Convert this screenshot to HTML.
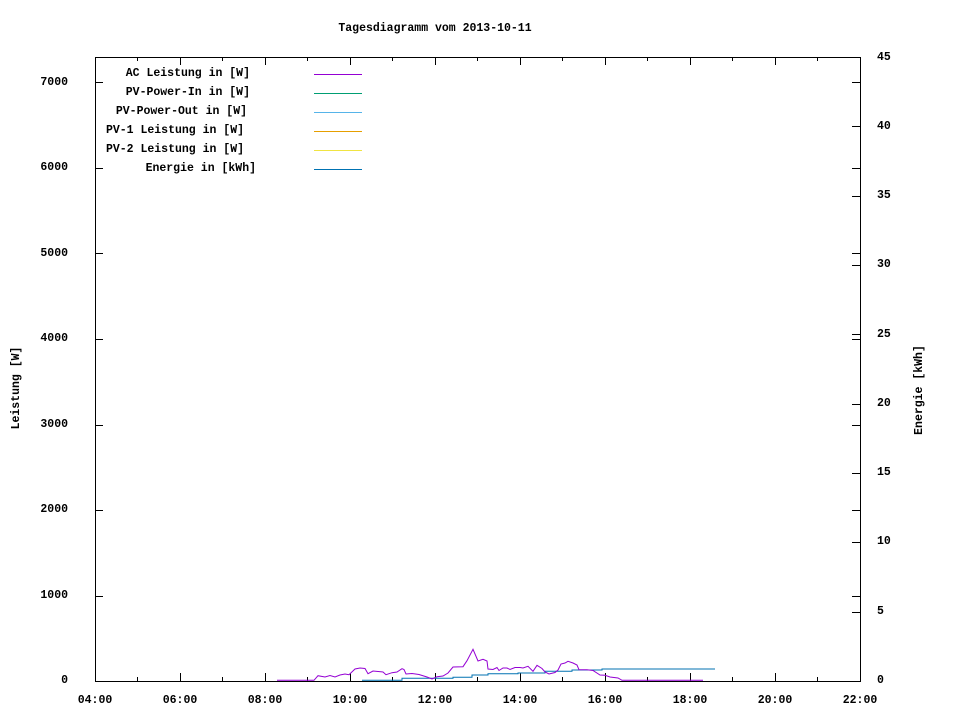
<!DOCTYPE html>
<html><head><meta charset="utf-8"><style>
html,body{margin:0;padding:0;background:#fff}
svg text{font-family:"Liberation Mono",monospace;font-weight:bold;font-size:11.5px;fill:#000}
</style></head><body>
<svg width="960" height="720" xmlns="http://www.w3.org/2000/svg">
<rect width="960" height="720" fill="#fff"/>
<text x="435" y="31" text-anchor="middle">Tagesdiagramm vom 2013-10-11</text>
<g stroke="#000" stroke-width="1" fill="none" shape-rendering="crispEdges">
<rect x="95.5" y="57.5" width="765" height="624"/>
<path d="M95 596.5h8M95 510.5h8M95 425.5h8M95 339.5h8M95 253.5h8M95 168.5h8M95 82.5h8
M860 596.5h-8M860 510.5h-8M860 425.5h-8M860 339.5h-8M860 253.5h-8M860 168.5h-8M860 82.5h-8"/>
<path d="M860 612.5h-8M860 542.5h-8M860 473.5h-8M860 404.5h-8M860 334.5h-8M860 265.5h-8M860 196.5h-8M860 126.5h-8"/>
<path d="M180.5 681v-8M265.5 681v-8M350.5 681v-8M435.5 681v-8M520.5 681v-8M605.5 681v-8M690.5 681v-8M775.5 681v-8
M180.5 57v8M265.5 57v8M350.5 57v8M435.5 57v8M520.5 57v8M605.5 57v8M690.5 57v8M775.5 57v8
M137.5 681v-4M222.5 681v-4M307.5 681v-4M392.5 681v-4M477.5 681v-4M562.5 681v-4M647.5 681v-4M732.5 681v-4M817.5 681v-4
M137.5 57v4M222.5 57v4M307.5 57v4M392.5 57v4M477.5 57v4M562.5 57v4M647.5 57v4M732.5 57v4M817.5 57v4"/>
</g>
<g text-anchor="end">
<text x="68" y="683">0</text><text x="68" y="598">1000</text><text x="68" y="512">2000</text><text x="68" y="427">3000</text>
<text x="68" y="341">4000</text><text x="68" y="256">5000</text><text x="68" y="170">6000</text><text x="68" y="85">7000</text>
</g>
<g text-anchor="start">
<text x="877" y="683">0</text><text x="877" y="614">5</text><text x="877" y="544">10</text><text x="877" y="475">15</text>
<text x="877" y="406">20</text><text x="877" y="337">25</text><text x="877" y="267">30</text><text x="877" y="198">35</text>
<text x="877" y="129">40</text><text x="877" y="60">45</text>
</g>
<g text-anchor="middle">
<text x="95" y="703">04:00</text><text x="180" y="703">06:00</text><text x="265" y="703">08:00</text><text x="350" y="703">10:00</text>
<text x="435" y="703">12:00</text><text x="520" y="703">14:00</text><text x="605" y="703">16:00</text><text x="690" y="703">18:00</text>
<text x="775" y="703">20:00</text><text x="860" y="703">22:00</text>
</g>
<text transform="translate(19,388) rotate(-90)" text-anchor="middle">Leistung [W]</text>
<text transform="translate(922,390) rotate(-90)" text-anchor="middle">Energie [kWh]</text>
<g text-anchor="end">
<text x="250" y="76">AC Leistung in [W]</text>
<text x="250" y="95">PV-Power-In in [W]</text>
<text x="247" y="114">PV-Power-Out in [W]</text>
<text x="244" y="133">PV-1 Leistung in [W]</text>
<text x="244" y="152">PV-2 Leistung in [W]</text>
<text x="256" y="171">Energie in [kWh]</text>
</g>
<g stroke-width="1" shape-rendering="crispEdges">
<path d="M314 74.5h48" stroke="#9400d3"/>
<path d="M314 93.5h48" stroke="#009e73"/>
<path d="M314 112.5h48" stroke="#56b4e9"/>
<path d="M314 131.5h48" stroke="#e69f00"/>
<path d="M314 150.5h48" stroke="#f0e442"/>
<path d="M314 169.5h48" stroke="#0072b2"/>
</g>
<path fill="none" stroke="#0072b2" stroke-width="1" d="M362 680.3H402V678.3H453V677.3H472V675H488V673.7H518V673H545V671.3H572V670H602V669H715"/>
<path fill="none" stroke="#9400d3" stroke-width="1" d="M277 680.3H314L318 675.7L325 677L330 675.5L335 677L340 675L345 674L349 674.7L355 669L360 668L365 668.5L368 673.7L373 671L383 672L386 674.7L392 672.7L397 672L402 668.7L404 669.5L406 674L412 673.5L419 674.5L427 677L432 679L437 676.7L443 676L448 673L453 667L463 666.7L467 660.7L473 649.3L478 661L483 659.3L487 661L488 669L493 669.5L497 667.5L499 670.5L503 668L507 668L510 669.5L515 667.5L520 667.5L523 668L528 666.3L533 671.3L537 665.3L542 668.5L545 672L549 674L555 672.5L558 670L561 664L565 663L568 661.3L573 663L577 665L579 669.7L587 669.7L593 670.5L600 675L605 675.3L610 677L618 678L622 680.3H703"/>
</svg>
</body></html>
